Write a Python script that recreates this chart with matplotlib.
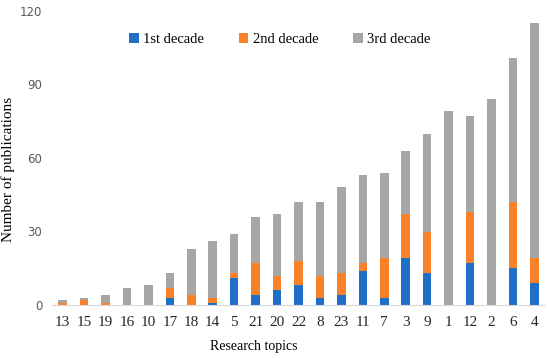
import matplotlib
matplotlib.use('Agg')
import matplotlib.pyplot as plt
import numpy as np

topics = ['13', '15', '19', '16', '10', '17', '18', '14', '5', '21', '20', '22',
          '8', '23', '11', '7', '3', '9', '1', '12', '2', '6', '4']
first = [0, 0, 0, 0, 0, 3, 0, 1, 11, 4, 6, 8, 3, 4, 14, 3, 19, 13, 0, 17, 0, 15, 9]
second = [1, 2, 1, 0, 0, 4, 4, 2, 2, 13, 6, 10, 9, 9, 3, 16, 18, 17, 0, 21, 0, 27, 10]
third = [1, 1, 3, 7, 8, 6, 19, 23, 16, 19, 25, 24, 30, 35, 36, 35, 26, 40, 79, 39, 84, 59, 96]

c1, c2, c3 = '#1f6fc6', '#f98128', '#a6a6a6'
serif = 'Liberation Serif'

fig = plt.figure(figsize=(5.5, 3.58), dpi=100)
ax = fig.add_axes([52 / 550, 53 / 358, 493 / 550, 294 / 358])

x = np.arange(len(topics))
w = 0.4
b1 = np.array(first)
b2 = b1 + np.array(second)
ax.bar(x, first, w, color=c1, label='1st decade')
ax.bar(x, second, w, bottom=b1, color=c2, label='2nd decade')
ax.bar(x, third, w, bottom=b2, color=c3, label='3rd decade')

ax.set_xlim(-0.5, len(topics) - 0.5)
ax.set_ylim(0, 120)
ax.set_yticks([0, 30, 60, 90, 120])
ax.set_xticks(x)
ax.set_xticklabels(topics, fontfamily=serif, fontsize=11, color='#262626')
ax.tick_params(axis='x', length=0, pad=8)
ax.tick_params(axis='y', length=0, pad=7, labelsize=8.5, labelcolor='#595959')
for s in ['top', 'right', 'left']:
    ax.spines[s].set_visible(False)
ax.spines['bottom'].set_color('#d9d9d9')

ax.set_ylabel('Number of publications', fontfamily=serif, fontsize=11)
ax.yaxis.set_label_coords(-0.075, 0.46)
ax.set_xlabel('Research topics', fontfamily=serif, fontsize=10)
ax.xaxis.set_label_coords(0.41, -0.12)

ax.legend(loc='upper center', bbox_to_anchor=(0.462, 0.97), ncol=3, frameon=False,
          prop={'family': serif, 'size': 10.5}, handlelength=0.65, handleheight=0.65,
          handletextpad=0.3, columnspacing=2.4)

fig.savefig('out.png', dpi=100)
